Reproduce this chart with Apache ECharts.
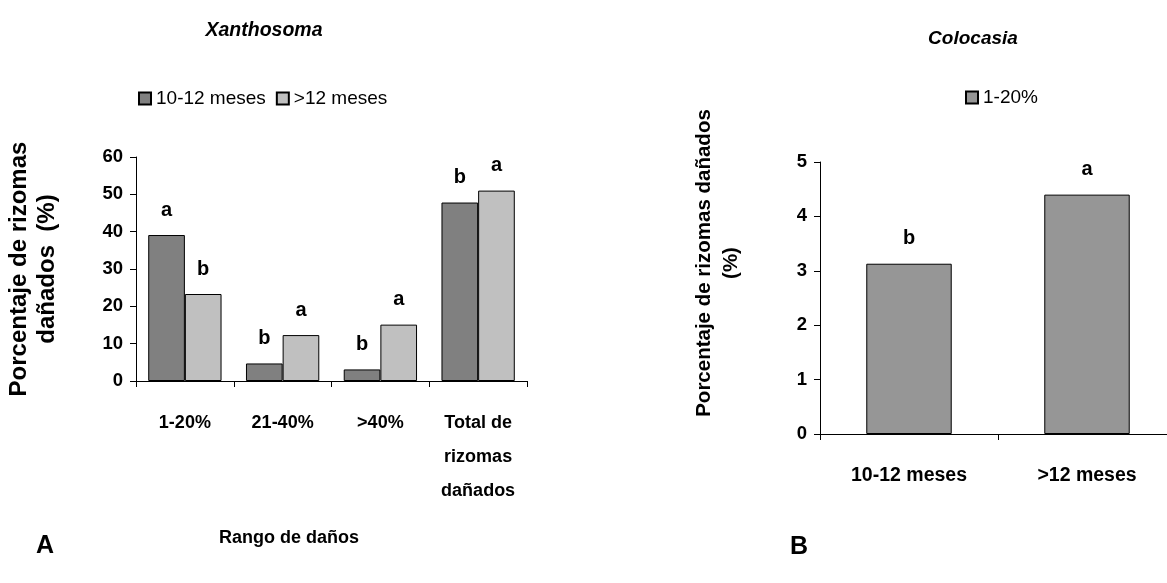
<!DOCTYPE html>
<html>
<head>
<meta charset="utf-8">
<script src="https://cdn.jsdelivr.net/npm/echarts@6/dist/echarts.min.js"></script>
<style>
  html, body { margin: 0; padding: 0; background: #fff; }
  #chart { width: 1167px; height: 583px; }
</style>
</head>
<body>
<div id="chart"></div>
<script>
// Panel A: Xanthosoma, damage range by rhizome age
const rangeCategories = ['1-20%', '21-40%', '>40%', 'Total de\nrizomas\ndañados'];
const age1012Values = [39.1, 4.7, 3.1, 47.8];
const ageOver12Values = [23.3, 12.3, 15.1, 51.0];
const age1012Letters = ['a', 'b', 'b', 'b'];
const ageOver12Letters = ['b', 'a', 'a', 'a'];
const yTicksA = [0, 60, 10];

// Panel B: Colocasia, 1-20% damage by rhizome age
const ageCategories = ['10-12 meses', '>12 meses'];
const range120Values = [3.13, 4.40];
const range120Letters = ['b', 'a'];
const yTicksB = [0, 5, 1];

const SANS = "'Liberation Sans', Arial, sans-serif";

const chart = echarts.init(document.getElementById('chart'), null, { renderer: 'canvas' });

const tickLabel = { color: '#000', fontFamily: SANS, fontWeight: 'bold', fontSize: 18.5, margin: 13 };
const axisLine = { show: true, lineStyle: { color: '#000', width: 1 } };
const axisTick = { show: true, length: 6, lineStyle: { color: '#000' } };

function letterLabel(letters) {
  return {
    show: true, position: 'top', distance: 15,
    color: '#000', fontFamily: SANS, fontWeight: 'bold', fontSize: 20,
    formatter: p => letters[p.dataIndex]
  };
}

const legendText = { fontFamily: SANS, fontSize: 19, color: '#000' };

const option = {
  animation: false,
  backgroundColor: '#fff',
  title: [
    { text: 'Xanthosoma', left: 259, top: 16, textAlign: 'center',
      textStyle: { fontFamily: SANS, fontWeight: 'bold', fontStyle: 'italic', fontSize: 19.5, color: '#000' } },
    { text: 'Colocasia', left: 968, top: 24, textAlign: 'center',
      textStyle: { fontFamily: SANS, fontWeight: 'bold', fontStyle: 'italic', fontSize: 19, color: '#000' } }
  ],
  legend: [
    { left: 133, top: 84, icon: 'rect', itemWidth: 12, itemHeight: 12, itemGap: 10,
      data: ['10-12 meses', '>12 meses'], textStyle: legendText },
    { left: 960, top: 83, icon: 'rect', itemWidth: 12, itemHeight: 12,
      data: ['1-20%'], textStyle: legendText }
  ],
  grid: [
    { left: 136, width: 391, top: 157, bottom: 202, containLabel: false, outerBoundsMode: 'none' },
    { left: 820, width: 356, top: 162, bottom: 149, containLabel: false, outerBoundsMode: 'none' }
  ],
  xAxis: [
    { type: 'category', gridIndex: 0, data: rangeCategories,
      axisLine: axisLine, axisTick: axisTick,
      axisLabel: { color: '#000', fontFamily: SANS, fontWeight: 'bold', fontSize: 18, lineHeight: 34, margin: 25, interval: 0 } },
    { type: 'category', gridIndex: 1, data: ageCategories,
      axisLine: axisLine, axisTick: axisTick,
      axisLabel: { color: '#000', fontFamily: SANS, fontWeight: 'bold', fontSize: 19.5, margin: 32, interval: 0 } }
  ],
  yAxis: [
    { type: 'value', gridIndex: 0, min: yTicksA[0], max: yTicksA[1], interval: yTicksA[2],
      axisLine: axisLine, axisTick: axisTick, splitLine: { show: false }, axisLabel: tickLabel,
      name: 'Porcentaje de rizomas\ndañados  (%)', nameLocation: 'middle', nameRotate: 90, nameGap: 75,
      nameTextStyle: { color: '#000', fontFamily: SANS, fontWeight: 'bold', fontSize: 24, lineHeight: 28,
        align: 'center' } },
    { type: 'value', gridIndex: 1, min: yTicksB[0], max: yTicksB[1], interval: yTicksB[2],
      axisLine: axisLine, axisTick: axisTick, splitLine: { show: false }, axisLabel: tickLabel,
      name: 'Porcentaje de rizomas dañados\n(%)', nameLocation: 'middle', nameRotate: 90, nameGap: 75,
      nameTextStyle: { color: '#000', fontFamily: SANS, fontWeight: 'bold', fontSize: 20.5, lineHeight: 27,
        align: 'center', padding: [0, 0, 0, 70] } }
  ],
  series: [
    { name: '10-12 meses', type: 'bar', xAxisIndex: 0, yAxisIndex: 0, data: age1012Values,
      barGap: '0%', barCategoryGap: '25%',
      itemStyle: { color: '#808080', borderColor: '#000', borderWidth: 1 },
      label: letterLabel(age1012Letters) },
    { name: '>12 meses', type: 'bar', xAxisIndex: 0, yAxisIndex: 0, data: ageOver12Values,
      barGap: '0%', barCategoryGap: '25%',
      itemStyle: { color: '#c0c0c0', borderColor: '#000', borderWidth: 1 },
      label: letterLabel(ageOver12Letters) },
    { name: '1-20%', type: 'bar', xAxisIndex: 1, yAxisIndex: 1, data: range120Values,
      barCategoryGap: '52%',
      itemStyle: { color: '#969696', borderColor: '#000', borderWidth: 1 },
      label: letterLabel(range120Letters) }
  ],
  graphic: [
    { type: 'text', left: 219, top: 529,
      style: { text: 'Rango de daños', fontFamily: SANS, fontWeight: 'bold', fontSize: 18, fill: '#000' } },
    { type: 'text', left: 36, top: 534,
      style: { text: 'A', fontFamily: SANS, fontWeight: 'bold', fontSize: 25, fill: '#000' } },
    { type: 'text', left: 790, top: 535,
      style: { text: 'B', fontFamily: SANS, fontWeight: 'bold', fontSize: 25, fill: '#000' } }
  ]
};

chart.setOption(option);
</script>
</body>
</html>
